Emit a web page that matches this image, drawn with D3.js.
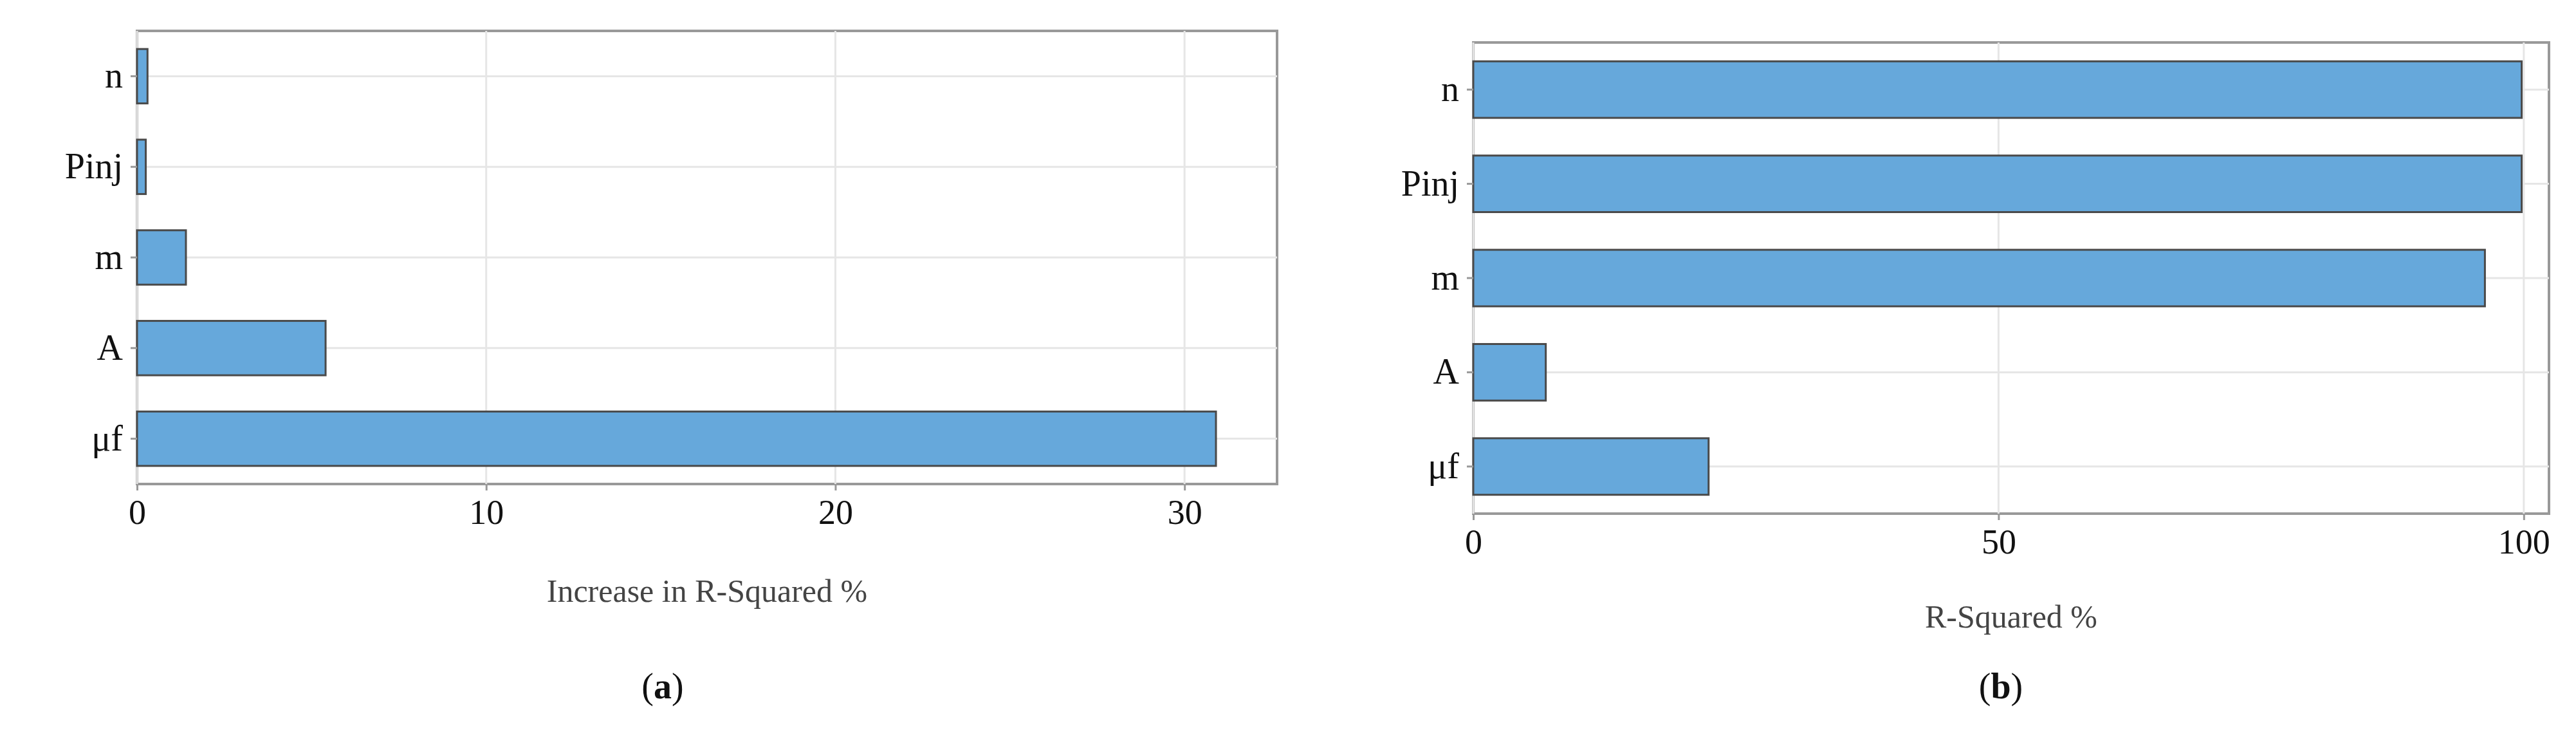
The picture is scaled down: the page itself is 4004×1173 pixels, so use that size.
<!DOCTYPE html>
<html><head><meta charset="utf-8">
<script src="https://cdn.jsdelivr.net/npm/d3@7"></script>
<style>body{margin:0;background:#fff}</style></head>
<body><svg id="c" width="4004" height="1173"></svg>
<script>
const categories = ["n","Pinj","m","A","μf"];
const valuesA = [0.3, 0.25, 1.4, 5.4, 30.9];
const valuesB = [99.8, 99.8, 96.3, 6.9, 22.4];
const ticksA = [0,10,20,30];
const ticksB = [0,50,100];
const svg = d3.select("#c");
const font = "'Liberation Serif', serif";
function panel(o){
  const g = svg.append("g");
  const x = d3.scaleLinear().domain([0,o.max]).range([o.l,o.r]);
  const y = d3.scaleBand().domain(categories).range([o.t,o.b]).paddingInner(0.4).paddingOuter(0.2);
  g.append("rect").attr("x",o.l).attr("y",o.t).attr("width",o.r-o.l).attr("height",o.b-o.t)
    .attr("fill","#fff").attr("stroke","#999").attr("stroke-width",4);
  g.selectAll(".gx").data(o.ticks).join("line").attr("x1",d=>x(d)).attr("x2",d=>x(d))
    .attr("y1",o.t).attr("y2",o.b).attr("stroke","#e6e6e6").attr("stroke-width",3);
  g.selectAll(".gy").data(categories).join("line").attr("x1",o.l).attr("x2",o.r)
    .attr("y1",d=>y(d)+y.bandwidth()/2).attr("y2",d=>y(d)+y.bandwidth()/2).attr("stroke","#e6e6e6").attr("stroke-width",3);
  g.selectAll(".bar").data(o.vals).join("rect").attr("x",x(0)).attr("y",(d,i)=>y(categories[i]))
    .attr("width",d=>x(d)-x(0)).attr("height",y.bandwidth()).attr("fill","#66a8db").attr("stroke","#4a4a4a").attr("stroke-width",3);
  const ax = g.append("g").attr("transform",`translate(0,${o.b})`)
    .call(d3.axisBottom(x).tickValues(o.ticks).tickSize(10).tickPadding(14).tickFormat(d3.format("d")));
  ax.select(".domain").remove();
  ax.selectAll("line").attr("stroke","#999").attr("stroke-width",3);
  ax.selectAll("text").attr("font-family",font).attr("font-size",54).attr("fill","#111");
  const ay = g.append("g").attr("transform",`translate(${o.l},0)`)
    .call(d3.axisLeft(y).tickSize(10).tickPadding(12));
  ay.select(".domain").remove();
  ay.selectAll("line").attr("stroke","#999").attr("stroke-width",3);
  ay.selectAll("text").attr("font-family",font).attr("font-size",56).attr("fill","#111");
  g.append("text").attr("x",(o.l+o.r)/2).attr("y",o.titleY).attr("text-anchor","middle")
    .attr("font-family",font).attr("font-size",50).attr("fill","#444").text(o.title);
  g.append("text").attr("x",o.capX).attr("y",1085).attr("text-anchor","middle")
    .attr("font-family",font).attr("font-size",56).attr("fill","#111")
    .html(`(<tspan font-weight="bold">${o.cap}</tspan>)`);
}
panel({l:213,r:1985,t:48,b:752,max:32.65,vals:valuesA,ticks:ticksA,title:"Increase in R-Squared %",titleY:935,cap:"a",capX:1030});
panel({l:2290,r:3962,t:66,b:798,max:102.4,vals:valuesB,ticks:ticksB,title:"R-Squared %",titleY:975,cap:"b",capX:3110});
</script></body></html>
